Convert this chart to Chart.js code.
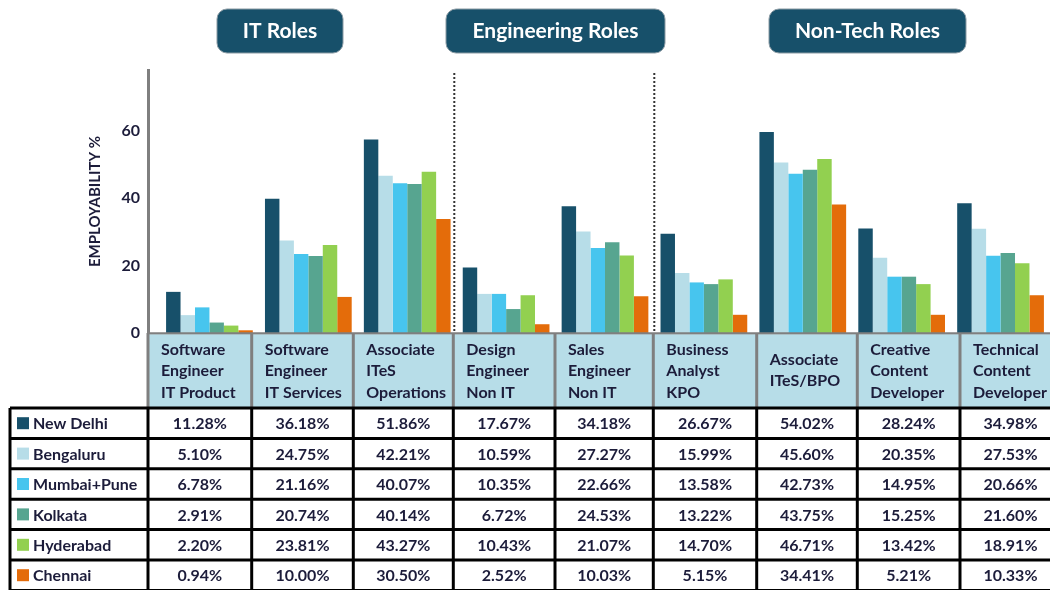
<!DOCTYPE html>
<html>
<head>
<meta charset="utf-8">
<script src="https://cdn.jsdelivr.net/npm/chart.js@4.4.1/dist/chart.umd.min.js"></script>
<style>
  html, body { margin: 0; padding: 0; background: #fff; overflow: hidden; }
  #wrap { width: 1050px; height: 590px; }
</style>
</head>
<body>
<div id="wrap"><canvas id="myChart" width="1050" height="590"></canvas></div>
<script>
// roles (x categories), split into lines for the label row
const roles = [
  ["Software", "Engineer", "IT Product"],
  ["Software", "Engineer", "IT Services"],
  ["Associate", "ITeS", "Operations"],
  ["Design", "Engineer", "Non IT"],
  ["Sales", "Engineer", "Non IT"],
  ["Business", "Analyst", "KPO"],
  ["Associate", "ITeS/BPO"],
  ["Creative", "Content", "Developer"],
  ["Technical", "Content", "Developer"],
];
const roleGroups = ["IT Roles", "Engineering Roles", "Non-Tech Roles"];
const cities = ["New Delhi", "Bengaluru", "Mumbai+Pune", "Kolkata", "Hyderabad", "Chennai"];
const yTicks = [0, 20, 40, 60];

// bar heights as drawn against the y axis
const barNewDelhi = [12.2, 39.8, 57.4, 19.4, 37.6, 29.4, 59.6, 31.0, 38.5];
const barBengaluru = [5.3, 27.4, 46.6, 11.6, 30.1, 17.8, 50.6, 22.3, 30.9];
const barMumbaiPune = [7.6, 23.4, 44.4, 11.6, 25.2, 15.0, 47.2, 16.7, 22.9];
const barKolkata = [3.1, 22.8, 44.2, 7.1, 26.9, 14.5, 48.4, 16.7, 23.7];
const barHyderabad = [2.2, 26.1, 47.8, 11.2, 23.0, 15.9, 51.6, 14.5, 20.7];
const barChennai = [0.8, 10.7, 33.8, 2.6, 10.9, 5.4, 38.1, 5.4, 11.2];

// percentages printed in the table
const pctNewDelhi = [11.28, 36.18, 51.86, 17.67, 34.18, 26.67, 54.02, 28.24, 34.98];
const pctBengaluru = [5.10, 24.75, 42.21, 10.59, 27.27, 15.99, 45.60, 20.35, 27.53];
const pctMumbaiPune = [6.78, 21.16, 40.07, 10.35, 22.66, 13.58, 42.73, 14.95, 20.66];
const pctKolkata = [2.91, 20.74, 40.14, 6.72, 24.53, 13.22, 43.75, 15.25, 21.60];
const pctHyderabad = [2.20, 23.81, 43.27, 10.43, 21.07, 14.70, 46.71, 13.42, 18.91];
const pctChennai = [0.94, 10.00, 30.50, 2.52, 10.03, 5.15, 34.41, 5.21, 10.33];

const barSeries = [barNewDelhi, barBengaluru, barMumbaiPune, barKolkata, barHyderabad, barChennai];
const pctSeries = [pctNewDelhi, pctBengaluru, pctMumbaiPune, pctKolkata, pctHyderabad, pctChennai];
const cityColors = ["#17506a", "#b7dde8", "#47c5ee", "#57a590", "#92d050", "#e46c0a"];

const FONT = "Lato, 'Open Sans', sans-serif";
const TEXT = "#1c1c3a";

// table / label row layout
const colX = [148, 251.7, 353.3, 453.3, 555, 653.3, 756.7, 857.3, 960, 1061];
const rowTop = 408;
const rowH = 30.4;
const titleBoxes = [
  { x: 217, w: 126 },
  { x: 446, w: 219 },
  { x: 769, w: 197 },
];

const decorPlugin = {
  id: "decor",
  afterDraw(chart) {
    const ctx = chart.ctx;
    const area = chart.chartArea;
    ctx.save();

    // group title boxes
    titleBoxes.forEach((b, i) => {
      ctx.beginPath();
      ctx.roundRect(b.x, 9, b.w, 44, 10);
      ctx.fillStyle = "#17506a";
      ctx.fill();
      ctx.strokeStyle = "#8a9aa3";
      ctx.lineWidth = 1;
      ctx.stroke();
      ctx.fillStyle = "#fff";
      ctx.font = "bold 21px " + FONT;
      ctx.textAlign = "center";
      ctx.textBaseline = "middle";
      ctx.fillText(roleGroups[i], b.x + b.w / 2, 31);
    });

    // dotted separators between groups
    ctx.strokeStyle = "#333";
    ctx.lineWidth = 2;
    ctx.setLineDash([2, 2]);
    [colX[3], colX[5]].forEach((x) => {
      ctx.beginPath();
      ctx.moveTo(x + 1, 73);
      ctx.lineTo(x + 1, area.bottom);
      ctx.stroke();
    });
    ctx.setLineDash([]);

    // axis line and baseline
    ctx.strokeStyle = "#7f7f7f";
    ctx.lineWidth = 3;
    ctx.beginPath();
    ctx.moveTo(148.5, 69);
    ctx.lineTo(148.5, area.bottom + 1);
    ctx.stroke();
    ctx.lineWidth = 2.5;
    ctx.beginPath();
    ctx.moveTo(148, area.bottom + 0.5);
    ctx.lineTo(1050, area.bottom + 0.5);
    ctx.stroke();

    // role label row
    const top = area.bottom + 1.5;
    ctx.fillStyle = "#b7dde8";
    ctx.fillRect(colX[0], top, colX[9] - colX[0], rowTop - top);
    ctx.strokeStyle = "#7f7f7f";
    ctx.lineWidth = 3;
    colX.forEach((x) => {
      ctx.beginPath();
      ctx.moveTo(x, area.bottom);
      ctx.lineTo(x, rowTop);
      ctx.stroke();
    });
    ctx.fillStyle = TEXT;
    ctx.font = "bold 16px " + FONT;
    ctx.textAlign = "left";
    ctx.textBaseline = "middle";
    roles.forEach((lines, i) => {
      const y0 = lines.length === 3 ? 350 : 359.5;
      lines.forEach((t, k) => ctx.fillText(t, colX[i] + 13, y0 + k * 21.3));
    });

    // data table
    cities.forEach((city, r) => {
      const cy = rowTop + r * rowH + rowH / 2;
      ctx.fillStyle = cityColors[r];
      ctx.fillRect(17, cy - 6, 12, 12);
      ctx.fillStyle = TEXT;
      ctx.font = "bold 16px " + FONT;
      ctx.textAlign = "left";
      ctx.fillText(city, 33, cy + 1);
      ctx.textAlign = "center";
      pctSeries[r].forEach((v, c) => {
        ctx.fillText(v.toFixed(2) + "%", (colX[c] + colX[c + 1]) / 2, cy + 1);
      });
    });
    ctx.strokeStyle = "#000";
    ctx.lineWidth = 3;
    for (let r = 0; r <= cities.length; r++) {
      const y = rowTop + r * rowH;
      ctx.beginPath();
      ctx.moveTo(10, y);
      ctx.lineTo(colX[9], y);
      ctx.stroke();
    }
    [10].concat(colX).forEach((x) => {
      ctx.beginPath();
      ctx.moveTo(x, rowTop);
      ctx.lineTo(x, rowTop + cities.length * rowH);
      ctx.stroke();
    });

    ctx.restore();
  },
};

const ctx = document.getElementById("myChart").getContext("2d");

const data = {
  labels: roles.map((r) => r.join(" ")),
  datasets: cities.map((city, i) => ({
    label: city,
    data: barSeries[i],
    backgroundColor: cityColors[i],
    borderWidth: 0,
    categoryPercentage: 0.877,
    barPercentage: 1.0,
  })),
};

const config = {
  type: "bar",
  data: data,
  options: {
    responsive: false,
    animation: false,
    layout: {
      padding: { top: 70, bottom: 257, left: 0, right: 0 },
    },
    plugins: {
      legend: { display: false },
      tooltip: { enabled: false },
    },
    scales: {
      x: {
        display: false,
      },
      y: {
        min: 0,
        max: 78,
        afterBuildTicks: (scale) => {
          scale.ticks = yTicks.map((v) => ({ value: v }));
        },
        afterFit: (scale) => {
          scale.width = 160;
        },
        grid: { display: false, drawTicks: false },
        border: { display: false },
        ticks: {
          padding: 20,
          color: TEXT,
          font: { family: FONT, size: 16, weight: "bold" },
        },
        title: {
          display: true,
          text: "EMPLOYABILITY %",
          color: TEXT,
          font: { family: FONT, size: 15, weight: "bold" },
          padding: { top: 86, bottom: 0 },
        },
      },
    },
  },
  plugins: [decorPlugin],
};

const myChart = new Chart(ctx, config);
</script>
</body>
</html>
